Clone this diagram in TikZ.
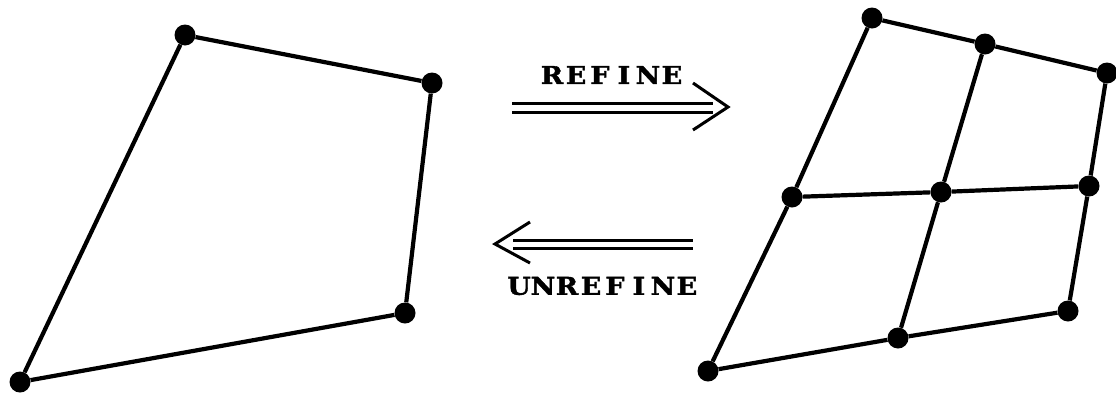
\documentclass[tikz,border=0pt]{standalone}
\usepackage{fontspec}
\newfontfamily\lblfont{DejaVu Serif Bold}[FakeBold=1.5]
\newcommand\lc[1]{\makebox[21.8pt][c]{#1}}
\begin{document}
\begin{tikzpicture}[x=1pt,y=-1pt,
  edge/.style={line width=4.2pt},
  vert/.style={circle,fill=black,inner sep=0pt,minimum size=21pt},
  arr/.style={line width=3pt},
  lbl/.style={font={\fontsize{24.5}{27}\lblfont\selectfont},xscale=1.1,transform shape,inner sep=0pt}]
\useasboundingbox (0,0) rectangle (1116,402);
% left quad
\node[vert] (a) at (185,35) {};
\node[vert] (b) at (432,83) {};
\node[vert] (c) at (405,313) {};
\node[vert] (d) at (20,382) {};
\draw[edge] (a) -- (b) -- (c) -- (d) -- (a);
% right mesh
\node[vert] (p1) at (872,18) {};
\node[vert] (p2) at (985,44) {};
\node[vert] (p3) at (1107,73) {};
\node[vert] (p4) at (792,197) {};
\node[vert] (p5) at (941,192) {};
\node[vert] (p6) at (1089,186) {};
\node[vert] (p7) at (708,371) {};
\node[vert] (p8) at (898,338) {};
\node[vert] (p9) at (1068,311) {};
\draw[edge] (p1) -- (p2) -- (p3) -- (p6) -- (p9) -- (p8) -- (p7) -- (p4) -- (p1);
\draw[edge] (p4) -- (p5) -- (p6);
\draw[edge] (p2) -- (p5) -- (p8);
% refine arrow
\coordinate (r1) at (512,103);
\coordinate (r2) at (713,103);
\coordinate (r3) at (512,112);
\coordinate (r4) at (713,112);
\coordinate (rt) at (728,107);
\draw[arr] (r1) -- (r2);
\draw[arr] (r3) -- (r4);
\draw[arr] (693,83) -- (rt) -- (693,130);
\node[lbl] (refine) at (612,75) {\lc{R}\lc{E}\lc{F}\lc{I}\lc{N}\lc{E}};
% unrefine arrow
\coordinate (u1) at (513,240);
\coordinate (u2) at (693,240);
\coordinate (u3) at (513,248);
\coordinate (u4) at (693,248);
\coordinate (ut) at (495,244);
\draw[arr] (u1) -- (u2);
\draw[arr] (u3) -- (u4);
\draw[arr] (530,222) -- (ut) -- (530,263);
\node[lbl] (unrefine) at (603,286) {\lc{U}\lc{N}\lc{R}\lc{E}\lc{F}\lc{I}\lc{N}\lc{E}};
\end{tikzpicture}
\end{document}
